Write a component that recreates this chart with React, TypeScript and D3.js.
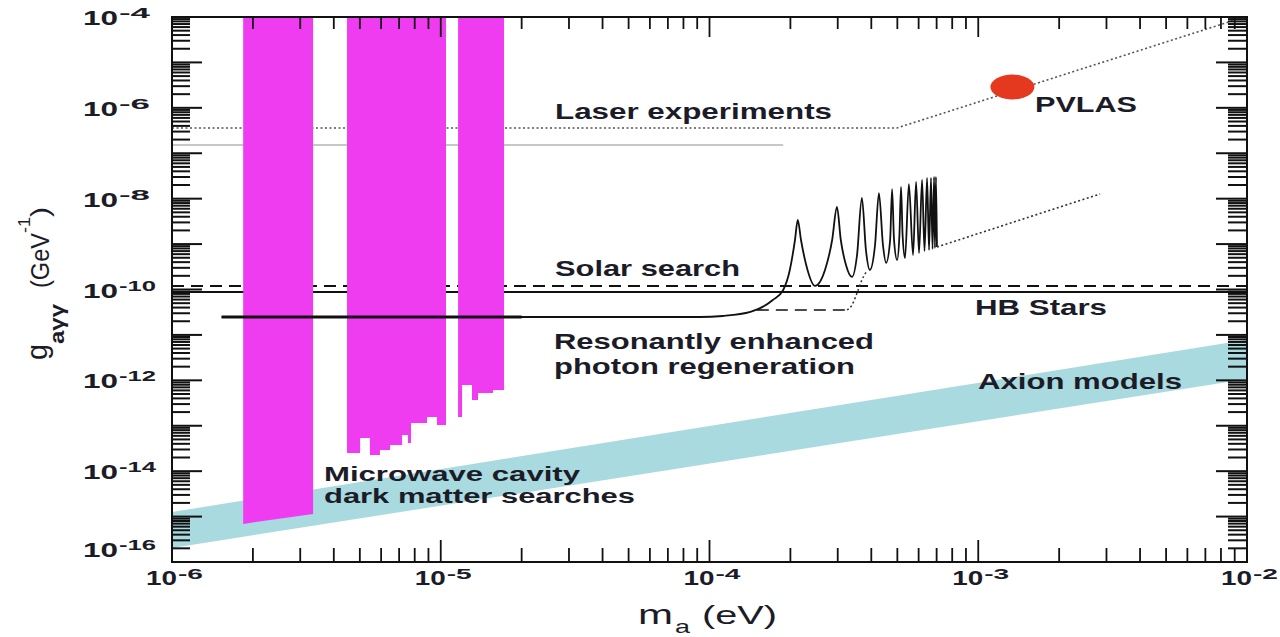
import React from "react";
import * as d3 from "d3";

const WIDTH = 1280;
const HEIGHT = 637;
const PLOT = { left: 172, right: 1247, top: 17, bottom: 562 };
const FONT = "'Liberation Sans', Arial, Helvetica, sans-serif";
const INK = "#1c1c28";

// ---------- axis tick labels ----------
const xTickValues = [1e-6, 1e-5, 1e-4, 1e-3, 1e-2];
const xTickSups = ["-6", "-5", "-4", "-3", "-2"];
const yTickValues = [1e-4, 1e-6, 1e-8, 1e-10, 1e-12, 1e-14, 1e-16];
const yTickSups = ["-4", "-6", "-8", "-10", "-12", "-14", "-16"];

// ---------- data (m_a in eV, g in GeV^-1) ----------
const massRange = [1e-6, 1e-2];
// axion models band: [m, gLow, gHigh]
const axionModelsBand = [
  [1e-6, 2.04e-16, 1.26e-15],
  [1e-2, 1.07e-12, 7.8e-12],
];
// microwave cavity exclusions: lower edge [m, g], excluded up to the top of the plot
const cavityTop = 1e-4;
const cavityRun1 = [
  [1.84e-6, 6.9e-16],
  [3.35e-6, 1.14e-15],
];
const cavityRun2 = [
  [4.48e-6, 2.52e-14],
  [5.01e-6, 5.38e-14],
  [5.45e-6, 2.28e-14],
  [5.94e-6, 2.93e-14],
  [6.48e-6, 3.78e-14],
  [7.18e-6, 6.26e-14],
  [7.55e-6, 4.18e-14],
  [7.75e-6, 1.15e-13],
  [8.89e-6, 1.56e-13],
  [9.68e-6, 1.04e-13],
  [1.046e-5, 1.04e-13],
];
const cavityRun3 = [
  [1.16e-5, 1.56e-13],
  [1.2e-5, 7.9e-13],
  [1.307e-5, 3.69e-13],
  [1.376e-5, 5.27e-13],
  [1.565e-5, 6.14e-13],
  [1.72e-5, 6.14e-13],
];
// laser experiments
const laserLimit = [
  [1e-6, 3.6e-7],
  [4.98e-4, 3.6e-7],
  [9.02e-3, 8.6e-5],
];
const laserGrey = [
  [1e-6, 1.52e-7],
  [1.88e-4, 1.52e-7],
];
// solar search and HB stars
const solarSearchLimit = 1.2e-10;
const hbStarsLimit = 0.88e-10;
// resonantly enhanced photon regeneration
const regenThick = [
  [1.53e-6, 2.48e-11],
  [2.0e-5, 2.48e-11],
];
const regenCurve = [
  [1.53e-6, 2.48e-11],
  [9.2e-5, 2.48e-11],
  [1.12e-4, 2.61e-11],
  [1.42e-4, 3.2e-11],
  [1.72e-4, 5.87e-11],
  [1.88e-4, 9.75e-11],
  [1.99e-4, 2.69e-10],
  [2.08e-4, 1.23e-9],
  [2.13e-4, 3.4e-9],
  [2.19e-4, 1.23e-9],
  [2.29e-4, 3.47e-10],
  [2.47e-4, 1.2e-10],
  [2.69e-4, 2.69e-10],
  [2.86e-4, 1.23e-9],
  [2.98e-4, 6.56e-9],
  [3.08e-4, 1.23e-9],
  [3.22e-4, 3.47e-10],
  [3.39e-4, 1.89e-10],
  [3.54e-4, 5.75e-10],
  [3.69e-4, 1.04e-8],
  [3.82e-4, 7.41e-10],
  [3.95e-4, 2.69e-10],
  [4.13e-4, 9.55e-10],
  [4.27e-4, 1.33e-8],
  [4.42e-4, 9.55e-10],
  [4.54e-4, 3.84e-10],
  [4.7e-4, 1.23e-9],
  [4.78e-4, 1.63e-8],
  [4.86e-4, 1.23e-9],
  [4.99e-4, 4.47e-10],
  [5.09e-4, 1.58e-9],
  [5.16e-4, 1.81e-8],
  [5.23e-4, 1.58e-9],
  [5.34e-4, 4.94e-10],
  [5.52e-4, 2.1e-8],
  [5.72e-4, 5.75e-10],
  [5.87e-4, 2.33e-8],
  [6.02e-4, 6.37e-10],
  [6.18e-4, 2.58e-8],
  [6.31e-4, 7.05e-10],
  [6.45e-4, 2.85e-8],
  [6.56e-4, 7.41e-10],
  [6.67e-4, 2.85e-8],
  [6.76e-4, 7.8e-10],
  [6.85e-4, 3.0e-8],
  [6.9e-4, 8.2e-10],
  [6.96e-4, 3.0e-8],
  [7.02e-4, 8.63e-10],
];
const regenDashed = [
  [1.5e-4, 3.54e-11],
  [3.25e-4, 3.54e-11],
];
const regenDotted = [
  [3.25e-4, 3.54e-11],
  [3.39e-4, 4.56e-11],
  [3.54e-4, 8.38e-11],
  [3.69e-4, 1.62e-10],
  [3.85e-4, 2.56e-10],
];
const regenExtension = [
  [7.02e-4, 8.63e-10],
  [2.84e-3, 1.27e-8],
];
const pvlasPoint = [1.34e-3, 2.88e-6];

// ---------- annotation layout ----------
const annotations = [
  { text: "Laser experiments", x: 555, y: 119, w: 277, s: 22 },
  { text: "PVLAS", x: 1035, y: 112, w: 102, s: 22 },
  { text: "Solar search", x: 555, y: 276, w: 185, s: 22 },
  { text: "HB Stars", x: 975, y: 315, w: 132, s: 22 },
  { text: "Resonantly enhanced", x: 554, y: 349, w: 320, s: 22 },
  { text: "photon regeneration", x: 554, y: 374, w: 301, s: 22 },
  { text: "Axion models", x: 978, y: 389, w: 204, s: 22 },
  { text: "Microwave cavity", x: 324, y: 481, w: 256, s: 20 },
  { text: "dark matter searches", x: 324, y: 503, w: 311, s: 20 },
];

export default function App() {
  const x = d3.scaleLog().domain([1e-6, 1e-2]).range([PLOT.left, PLOT.right]);
  const y = d3.scaleLog().domain([1e-16, 1e-4]).range([PLOT.bottom, PLOT.top]);

  const line = d3
    .line<number[]>()
    .x((d) => x(d[0]))
    .y((d) => y(d[1]));
  const smooth = d3
    .line<number[]>()
    .x((d) => x(d[0]))
    .y((d) => y(d[1]))
    .curve(d3.curveMonotoneX);

  const band = d3
    .area<number[]>()
    .x((d) => x(d[0]))
    .y0((d) => y(d[1]))
    .y1((d) => y(d[2]));

  const cavityLinear = d3
    .area<number[]>()
    .x((d) => x(d[0]))
    .y0(() => y(cavityTop))
    .y1((d) => y(d[1]));
  const cavityStep = d3
    .area<number[]>()
    .x((d) => x(d[0]))
    .y0(() => y(cavityTop))
    .y1((d) => y(d[1]))
    .curve(d3.curveStepAfter);

  const isMajor = (v: number) =>
    Math.abs(Math.log10(v) - Math.round(Math.log10(v))) < 1e-6;
  const xTicks = x.ticks(10);
  const yTicks = y.ticks(200);

  const magenta = "#f03cf0";

  return (
    <div style={{ position: "absolute", left: 0, top: 0 }}>
      <svg width={WIDTH} height={HEIGHT} style={{ display: "block", background: "#fff" }}>
        {/* axion models band */}
        <path d={band(axionModelsBand) || ""} fill="#a9dadf" />

        {/* laser experiments */}
        <path d={line(laserGrey) || ""} fill="none" stroke="#b5b5b5" strokeWidth={1.3} />
        <path
          d={line(laserLimit) || ""}
          fill="none"
          stroke="#555"
          strokeWidth={1.6}
          strokeDasharray="2 2.5"
        />

        {/* solar search & HB stars */}
        <line
          x1={x(massRange[0])}
          x2={x(massRange[1])}
          y1={y(solarSearchLimit)}
          y2={y(solarSearchLimit)}
          stroke="#111"
          strokeWidth={2}
          strokeDasharray="12 7"
        />
        <line
          x1={x(massRange[0])}
          x2={x(massRange[1])}
          y1={y(hbStarsLimit)}
          y2={y(hbStarsLimit)}
          stroke="#111"
          strokeWidth={2}
        />

        {/* microwave cavity */}
        <path d={cavityLinear(cavityRun1) || ""} fill={magenta} />
        <path d={cavityStep(cavityRun2) || ""} fill={magenta} />
        <path d={cavityStep(cavityRun3) || ""} fill={magenta} />

        {/* resonantly enhanced photon regeneration */}
        <path d={smooth(regenCurve) || ""} fill="none" stroke="#111" strokeWidth={1.8} />
        <path d={line(regenThick) || ""} fill="none" stroke="#111" strokeWidth={3} />
        <path
          d={line(regenDashed) || ""}
          fill="none"
          stroke="#111"
          strokeWidth={1.6}
          strokeDasharray="12 7"
        />
        <path
          d={smooth(regenDotted) || ""}
          fill="none"
          stroke="#333"
          strokeWidth={1.5}
          strokeDasharray="2 2.5"
        />
        <path
          d={line(regenExtension) || ""}
          fill="none"
          stroke="#333"
          strokeWidth={1.6}
          strokeDasharray="2 2.5"
        />

        {/* PVLAS */}
        <ellipse cx={x(pvlasPoint[0])} cy={y(pvlasPoint[1])} rx={22} ry={12.5} fill="#e5391f" />

        {/* annotations */}
        {annotations.map((a) => (
          <text
            key={a.text}
            x={a.x}
            y={a.y}
            fontSize={a.s}
            fontWeight="bold"
            fontFamily={FONT}
            fill={INK}
            textLength={a.w}
            lengthAdjust="spacingAndGlyphs"
          >
            {a.text}
          </text>
        ))}

        {/* frame */}
        <rect
          x={PLOT.left}
          y={PLOT.top}
          width={PLOT.right - PLOT.left}
          height={PLOT.bottom - PLOT.top}
          fill="none"
          stroke="#111"
          strokeWidth={2}
        />

        {/* x ticks */}
        {xTicks.map((t, i) => {
          const L = isMajor(t) ? 22 : 14;
          const px = x(t);
          return (
            <g key={"xt" + i} stroke="#111" strokeWidth={1.8}>
              <line x1={px} x2={px} y1={PLOT.bottom} y2={PLOT.bottom - L} />
              <line x1={px} x2={px} y1={PLOT.top} y2={PLOT.top + L - 2} />
            </g>
          );
        })}
        {/* y ticks */}
        {yTicks.map((t, i) => {
          const major = isMajor(t);
          const py = y(t);
          return (
            <g key={"yt" + i} stroke="#111" strokeWidth={2}>
              <line x1={PLOT.left} x2={PLOT.left + (major ? 30 : 18)} y1={py} y2={py} />
              <line x1={PLOT.right} x2={PLOT.right - (major ? 31 : 19)} y1={py} y2={py} />
            </g>
          );
        })}

        {/* x tick labels */}
        {xTickValues.map((v, i) => {
          const px = x(v);
          return (
            <g key={"xl" + i} fontFamily={FONT} fontWeight="bold" fill={INK}>
              <text x={px - 26} y={585} fontSize={21} textLength={31} lengthAdjust="spacingAndGlyphs">
                10
              </text>
              <text x={px + 6} y={579} fontSize={15} textLength={25} lengthAdjust="spacingAndGlyphs">
                {xTickSups[i]}
              </text>
            </g>
          );
        })}

        {/* y tick labels */}
        {yTickValues.map((v, i) => {
          const py = y(v) + (i === yTickValues.length - 1 ? -5 : 8);
          const supW = yTickSups[i].length > 2 ? 37 : 31;
          return (
            <g key={"yl" + i} fontFamily={FONT} fontWeight="bold" fill={INK}>
              <text x={83} y={py} fontSize={21} textLength={35} lengthAdjust="spacingAndGlyphs">
                10
              </text>
              <text x={119} y={py - 7} fontSize={15} textLength={supW} lengthAdjust="spacingAndGlyphs">
                {yTickSups[i]}
              </text>
            </g>
          );
        })}

        {/* x axis title */}
        <g fontFamily={FONT} fill={INK}>
          <text x={638} y={624} fontSize={27} textLength={35} lengthAdjust="spacingAndGlyphs">
            m
          </text>
          <text x={675} y={633} fontSize={19} textLength={15} lengthAdjust="spacingAndGlyphs">
            a
          </text>
          <text x={702} y={624} fontSize={25} textLength={75} lengthAdjust="spacingAndGlyphs">
            (eV)
          </text>
        </g>

        {/* y axis title */}
        <g transform="rotate(-90)" fontFamily={FONT} fill={INK}>
          <text x={-360} y={47} fontSize={30} textLength={16} lengthAdjust="spacingAndGlyphs">
            g
          </text>
          <text
            x={-344}
            y={64}
            fontSize={20}
            fontWeight="bold"
            textLength={40}
            lengthAdjust="spacingAndGlyphs"
          >
            aγγ
          </text>
          <text x={-288} y={49} fontSize={25} textLength={55} lengthAdjust="spacingAndGlyphs">
            (GeV
          </text>
          <text x={-233} y={30} fontSize={16} textLength={16} lengthAdjust="spacingAndGlyphs">
            -1
          </text>
          <text x={-217} y={49} fontSize={25} textLength={10} lengthAdjust="spacingAndGlyphs">
            )
          </text>
        </g>
      </svg>
    </div>
  );
}
